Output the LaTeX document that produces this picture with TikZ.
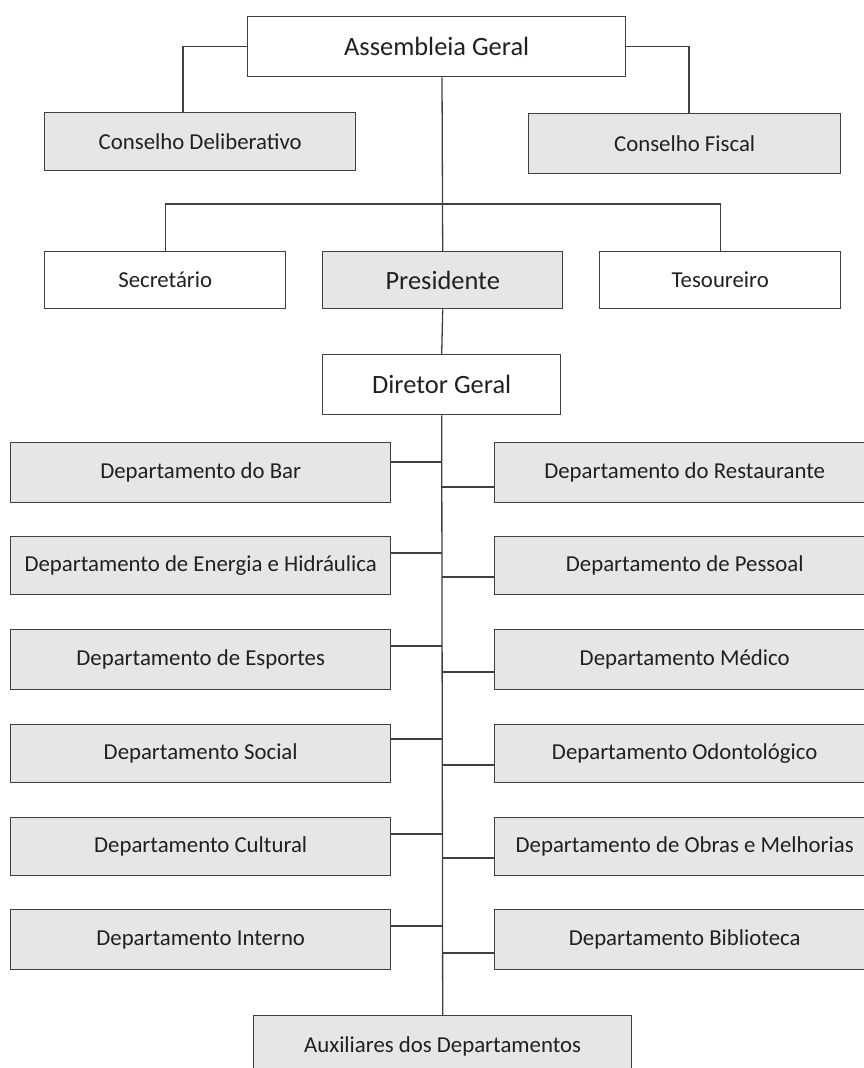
\documentclass[tikz,border=0pt]{standalone}
\usepackage{fontspec}
\setmainfont{Carlito}
\begin{document}
\begin{tikzpicture}[x=1pt,y=-1pt,
  box/.style={draw=boxline, line width=1.4pt, text=txt, inner sep=0pt, anchor=north west,
     font=\fontsize{22.8}{26}\selectfont},
  gbox/.style={box, fill=boxfill},
  big/.style={font=\fontsize{26.4}{30}\selectfont},
  conn/.style={draw=boxline, line width=1.3pt}]
\definecolor{boxline}{HTML}{404040}
\definecolor{boxfill}{HTML}{E6E6E6}
\definecolor{txt}{HTML}{231F20}
\useasboundingbox (0,0) rectangle (864,1068);
\clip (0,0) rectangle (864,1068);
% top
\node[box, big, minimum width=378pt, minimum height=60pt] (ag) at (247,16) {Assembleia Geral};
\node[gbox, minimum width=311pt, minimum height=58pt] (cd) at (44,112) {Conselho Deliberativo};
\node[gbox, minimum width=312pt, minimum height=60pt] (cf) at (528,113) {Conselho Fiscal};
\node[box, minimum width=241pt, minimum height=57pt] (sec) at (44,251) {Secretário};
\node[gbox, big, minimum width=240pt, minimum height=57pt] (pres) at (322,251) {Presidente};
\node[box, minimum width=241pt, minimum height=57pt] (tes) at (599,251) {Tesoureiro};
\node[box, big, minimum width=238pt, minimum height=60pt] (dg) at (322,354) {Diretor Geral};
% departments
\node[gbox, minimum width=380pt, minimum height=60pt] (L1) at (10,442) {Departamento do Bar};
\node[gbox, minimum width=380pt, minimum height=58pt] (L2) at (10,536) {Departamento de Energia e Hidráulica};
\node[gbox, minimum width=380pt, minimum height=60pt] (L3) at (10,629) {Departamento de Esportes};
\node[gbox, minimum width=380pt, minimum height=58pt] (L4) at (10,724) {Departamento Social};
\node[gbox, minimum width=380pt, minimum height=58pt] (L5) at (10,817) {Departamento Cultural};
\node[gbox, minimum width=380pt, minimum height=60pt] (L6) at (10,909) {Departamento Interno};
\node[gbox, minimum width=380pt, minimum height=60pt] (R1) at (494,442) {Departamento do Restaurante};
\node[gbox, minimum width=380pt, minimum height=58pt] (R2) at (494,536) {Departamento de Pessoal};
\node[gbox, minimum width=380pt, minimum height=60pt] (R3) at (494,629) {Departamento Médico};
\node[gbox, minimum width=380pt, minimum height=58pt] (R4) at (494,724) {Departamento Odontológico};
\node[gbox, minimum width=380pt, minimum height=58pt] (R5) at (494,817) {Departamento de Obras e Melhorias};
\node[gbox, minimum width=380pt, minimum height=60pt] (R6) at (494,909) {Departamento Biblioteca};
\node[gbox, minimum width=378pt, minimum height=62pt] (aux) at (253,1015) {Auxiliares dos Departamentos};
% coordinates
\coordinate (trunk) at (442,0);
\coordinate (cdk) at (183,0);
\coordinate (cfk) at (689,0);
\coordinate (bar) at (0,204);
% top connectors
\draw[conn] (ag.west) -| (cdk |- cd.north);
\draw[conn] (ag.east) -| (cfk |- cf.north);
\draw[conn] (trunk |- ag.south) -- (pres.north);
\draw[conn] (sec.north) |- (bar -| trunk);
\draw[conn] (tes.north) |- (bar -| trunk);
\draw[conn] (pres.south) -- (dg.north);
\draw[conn] (dg.south) -- (aux.north);
% department connectors
\foreach \n/\d in {L1/20,L2/17,L3/17,L4/15,L5/17,L6/17}{
  \coordinate (j\n) at ([yshift=-\d pt]\n.north east);
  \draw[conn] (j\n) -- (trunk |- j\n);
}
\foreach \n/\d in {R1/45,R2/41,R3/43,R4/41,R5/41,R6/44}{
  \coordinate (j\n) at ([yshift=-\d pt]\n.north west);
  \draw[conn] (j\n) -- (trunk |- j\n);
}
\end{tikzpicture}
\end{document}
